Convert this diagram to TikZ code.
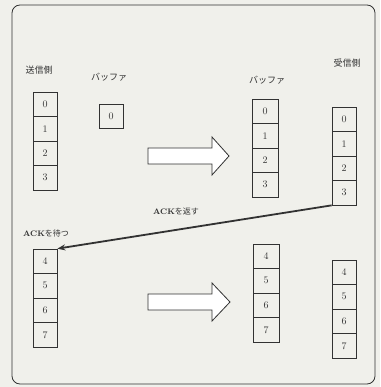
\documentclass[tikz,border=0pt]{standalone}
\usepackage{fontspec}
\newfontfamily\jp{Noto Sans CJK JP}
\usetikzlibrary{arrows.meta}
\definecolor{paper}{RGB}{240,240,235}
\definecolor{ink}{RGB}{50,50,50}
\newcommand{\ackword}{{\rmfamily\bfseries\footnotesize ACK}}
\begin{document}
\begin{tikzpicture}[x=1pt,y=-1pt,
  cell/.style={draw=ink,line width=0.7pt,minimum width=24pt,minimum height=24.5pt,inner sep=0pt,font=\normalsize,text=ink},
  wcell/.style={cell,minimum width=26pt},
  lbl/.style={font=\jp\small,text=ink,inner sep=1pt},
  acklbl/.style={font=\jp\footnotesize,text=ink,inner sep=1pt},
  hollow/.style={draw=ink,line width=0.8pt,fill=white},
  ackarrow/.style={draw=ink,line width=1.8pt,-{Stealth[length=8pt,width=6pt]}}]
\useasboundingbox (0,0) rectangle (380,387);
\fill[paper] (0,0) rectangle (380,387);
\draw[ink,line width=0.8pt,rounded corners=8pt] (12,5) rectangle (375,384);
% labels
\node[lbl] (sendlbl) at (39,70) {送信側};
\node[lbl] (buf1lbl) at (109,77) {バッファ};
\node[lbl] (buf2lbl) at (267,80) {バッファ};
\node[lbl] (recvlbl) at (347,63) {受信側};
% sender stack top
\node[cell] (s0) at (45,104.25) {0};
\node[cell] (s1) at (45,128.75) {1};
\node[cell] (s2) at (45,153.25) {2};
\node[cell] (s3) at (45,177.75) {3};
% buffer single
\node[cell,minimum height=24pt] (b0) at (111,116) {0};
% middle buffer stack
\node[wcell] (m0) at (265,111.25) {0};
\node[wcell] (m1) at (265,135.75) {1};
\node[wcell] (m2) at (265,160.25) {2};
\node[wcell] (m3) at (265,184.75) {3};
% receiver stack
\node[cell] (r0) at (344,119.25) {0};
\node[cell] (r1) at (344,143.75) {1};
\node[cell] (r2) at (344,168.25) {2};
\node[cell] (r3) at (344,192.75) {3};
% hollow arrow 1
\draw[hollow] (148,148) -- (212,148) -- (212,137) -- (229,156) -- (212,175) -- (212,164) -- (148,164) -- cycle;
% ACK
\node[acklbl] (acksend) at (176,212) {\ackword を返す};
\node[acklbl] (ackwait) at (46,233) {\ackword を待つ};
% sender stack bottom
\node[cell] (a4) at (45,261.25) {4};
\node[cell] (a5) at (45,285.75) {5};
\node[cell] (a6) at (45,310.25) {6};
\node[cell] (a7) at (45,334.75) {7};
% middle bottom
\node[wcell] (n4) at (266,256.25) {4};
\node[wcell] (n5) at (266,280.75) {5};
\node[wcell] (n6) at (266,305.25) {6};
\node[wcell] (n7) at (266,329.75) {7};
% receiver bottom
\node[cell] (q4) at (344,272.25) {4};
\node[cell] (q5) at (344,296.75) {5};
\node[cell] (q6) at (344,321.25) {6};
\node[cell] (q7) at (344,345.75) {7};
% hollow arrow 2
\draw[hollow] (148,294) -- (212,294) -- (212,283) -- (230,302) -- (212,321) -- (212,310) -- (148,310) -- cycle;
% ACK arrow
\draw[ackarrow] (r3.south west) -- (a4.north east);
\end{tikzpicture}
\end{document}
